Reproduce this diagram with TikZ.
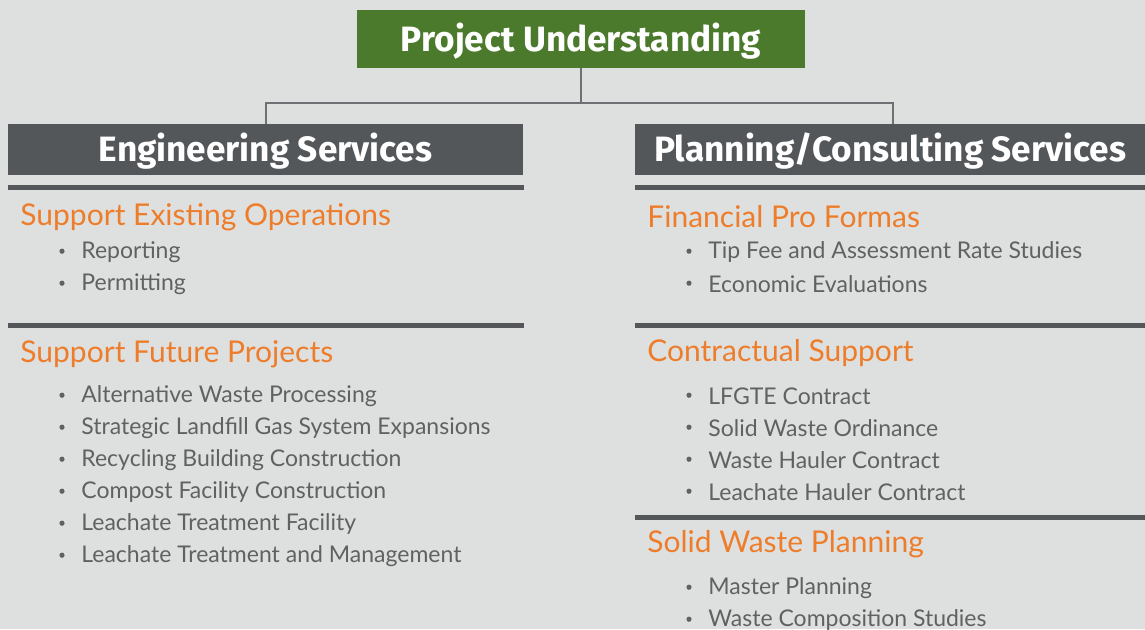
\documentclass[tikz,border=0pt]{standalone}
\usepackage{fontspec}
\setmainfont{Fira Sans}
\newfontfamily\bodyfont{Lato}
\usepackage{tikz}
\usetikzlibrary{calc}
\usetikzlibrary{positioning}
\definecolor{bgray}{HTML}{DEE0DF}
\definecolor{dgray}{HTML}{54575A}
\definecolor{lgreen}{HTML}{4C7A2C}
\definecolor{orng}{HTML}{EE7D2B}
\definecolor{tgray}{HTML}{5F6163}
\tikzset{
  topbox/.style={fill=lgreen,text=white,font=\bfseries\fontsize{17.6}{20}\selectfont,minimum width=224pt,minimum height=29pt,inner sep=0pt,text height=14pt,text depth=2pt},
  secbox/.style={fill=dgray,text=white,font=\bfseries\fontsize{17.6}{20}\selectfont,minimum height=25.5pt,inner sep=0pt,text height=14pt,text depth=2pt},
  subhead/.style={anchor=west,text=orng,font=\bodyfont\fontsize{15}{17}\selectfont,inner sep=0pt,yshift=-1pt},
  item/.style={anchor=west,text=tgray,font=\bodyfont\fontsize{11.5}{13}\selectfont,inner sep=0pt,yshift=-1pt},
  dot/.style={circle,fill=tgray,inner sep=0pt,minimum size=2.6pt,yshift=-0.6pt},
  sepline/.style={dgray,line width=2.5pt},
  link/.style={draw=dgray!85,line width=1pt}
}
\begin{document}
\begin{tikzpicture}[x=0.5pt,y=-0.5pt]
\fill[bgray] (0,0) rectangle (1145,629);
\useasboundingbox (0,0) rectangle (1145,629);
% top and the two branches
\node[topbox] (top) at (581,39) {Project Understanding};
\node[secbox,minimum width=257.5pt] (eng) at (265.5,149.5) {Engineering Services};
\node[secbox,minimum width=255pt] (plan) at (890,149.5) {Planning/Consulting Services};
\draw[link] (top.south) -- ++(0,35) -| (eng.north -| 266,0);
\draw[link] (top.south) ++(0,35) -| (plan.north -| 893,0);
% separators
\draw[sepline] (8,187) -- (524,187);
\draw[sepline] (8,325) -- (524,325);
\draw[sepline] (635,187) -- (1145,187);
\draw[sepline] (635,325) -- (1145,325);
\draw[sepline] (635,517) -- (1145,517);
% left column
\node[subhead] (seo) at (20,215) {Support Existing Operations};
\node[subhead] (sfp) at (20,352) {Support Future Projects};
\foreach \txt/\y [count=\i] in {Reporting/250,Permitting/282,
  Alternative Waste Processing/394,Strategic Landfill Gas System Expansions/426,
  Recycling Building Construction/458,Compost Facility Construction/490,
  Leachate Treatment Facility/522,Leachate Treatment and Management/554}{
  \node[dot] (ld\i) at (62,\y) {};
  \node[item] (li\i) at (81,\y) {\txt};
}
% right column
\node[subhead] (fpf) at (647,215) {Financial Pro Formas};
\node[subhead] (cs) at (647,351) {Contractual Support};
\node[subhead] (swp) at (647,542) {Solid Waste Planning};
\foreach \txt/\y [count=\i] in {Tip Fee and Assessment Rate Studies/250,Economic Evaluations/282,
  LFGTE Contract/394,Solid Waste Ordinance/426,Waste Hauler Contract/458,
  Leachate Hauler Contract/490,Master Planning/586,Waste Composition Studies/618}{
  \node[dot] (rd\i) at (689,\y) {};
  \node[item] (ri\i) at (708,\y) {\txt};
}
\end{tikzpicture}
\end{document}
